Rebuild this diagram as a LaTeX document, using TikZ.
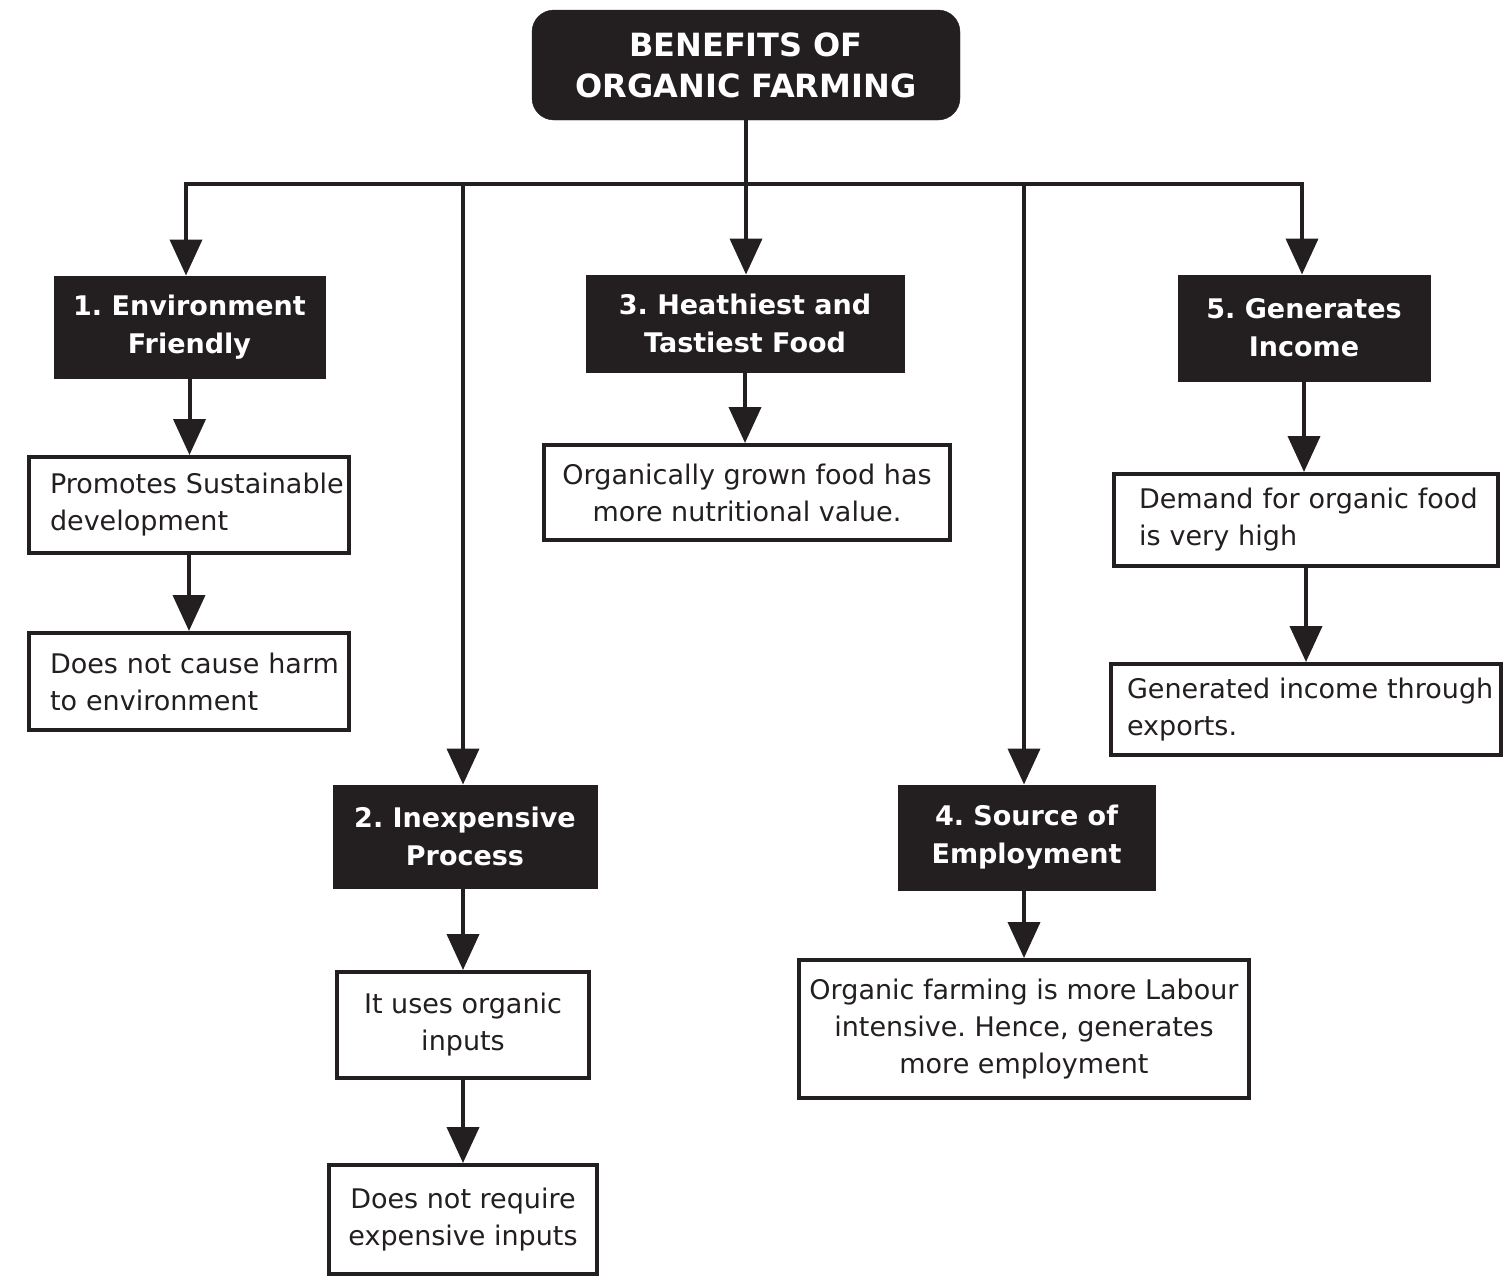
\documentclass[tikz,border=0pt]{standalone}
\usepackage{fontspec}
\setmainfont{DejaVu Sans}
\usetikzlibrary{arrows.meta}
\definecolor{ink}{HTML}{231F20}
\begin{document}
\frenchspacing
\begin{tikzpicture}[x=1pt,y=-1pt,
  arr/.style={draw=ink, line width=4pt, -{Triangle[length=36pt,width=32pt]}},
  conn/.style={draw=ink, line width=4pt},
  headbox/.style={fill=ink, draw=ink, line width=1pt, inner sep=0pt, text=white,
     font=\fontsize{27}{38}\selectfont\bfseries\frenchspacing, align=center},
  notebox/.style={draw=ink, line width=4pt, fill=white, inner sep=0pt, text=ink,
     font=\fontsize{27}{37}\selectfont\frenchspacing},
  titlebox/.style={fill=ink, draw=ink, rounded corners=22pt, inner sep=0pt, text=white,
     font=\fontsize{32}{41}\selectfont\bfseries, align=center}
]
\useasboundingbox (0,0) rectangle (1511,1283);

\node[titlebox, minimum width=428, minimum height=110] (title) at (746,65) {BENEFITS OF\\ORGANIC FARMING};

\node[headbox, minimum width=271, minimum height=102] (b1) at (189.5,327) {1. Environment\\Friendly};
\node[headbox, minimum width=264, minimum height=103] (b2) at (465,836.5) {2. Inexpensive\\Process};
\node[headbox, minimum width=318, minimum height=97] (b3) at (745,323.5) {3. Heathiest and\\Tastiest Food};
\node[headbox, minimum width=257, minimum height=105] (b4) at (1026.5,837.5) {4. Source of\\Employment};
\node[headbox, minimum width=252, minimum height=106] (b5) at (1304,328) {5. Generates\\Income};

\node[notebox, minimum width=320, minimum height=96, text width=278, align=left] (b1a) at (189,505) {\mbox{Promotes Sustainable}\\development};
\node[notebox, minimum width=320, minimum height=97, text width=278, align=left] (b1b) at (189,681.5) {\mbox{Does not cause harm}\\to environment};

\node[notebox, minimum width=252, minimum height=106, align=center] (b2a) at (463,1025) {It uses organic\\inputs};
\node[notebox, minimum width=268, minimum height=109, align=center] (b2b) at (463,1219.5) {Does not require\\expensive inputs};

\node[notebox, minimum width=406, minimum height=95, align=center] (b3a) at (747,492.5) {Organically grown food has\\more nutritional value.};

\node[notebox, minimum width=450, minimum height=138, align=center] (b4a) at (1024,1029) {Organic farming is more Labour\\intensive. Hence, generates\\more employment};

\node[notebox, minimum width=384, minimum height=92, text width=334, align=left] (b5a) at (1306,520) {\mbox{Demand for organic food}\\is very high};
\node[notebox, minimum width=390, minimum height=91, text width=358, align=left] (b5b) at (1306,709.5) {\mbox{Generated income through}\\exports.};

% bus
\coordinate (c1) at (186,184);
\coordinate (c2) at (463,184);
\coordinate (c3) at (745,184);
\coordinate (c4) at (1024,184);
\coordinate (c5) at (1302,184);
\draw[conn] ([xshift=-2pt]c1) -- ([xshift=2pt]c5);

\draw[arr] (title.south) -- (title.south |- b3.north);
\draw[arr] (c1) -- (c1 |- b1.north);
\draw[arr] (c2) -- (c2 |- b2.north);
\draw[arr] (c4) -- (c4 |- b4.north);
\draw[arr] (c5) -- (c5 |- b5.north);

\draw[arr] (b1.south) -- (b1.south |- b1a.north);
\draw[arr] (b1a.south) -- (b1a.south |- b1b.north);
\draw[arr] (b2a.north |- b2.south) -- (b2a.north);
\draw[arr] (b2a.south) -- (b2a.south |- b2b.north);
\draw[arr] (b3.south) -- (b3.south |- b3a.north);
\draw[arr] (b4a.north |- b4.south) -- (b4a.north);
\draw[arr] (b5.south) -- (b5.south |- b5a.north);
\draw[arr] (b5a.south) -- (b5a.south |- b5b.north);
\end{tikzpicture}
\end{document}
